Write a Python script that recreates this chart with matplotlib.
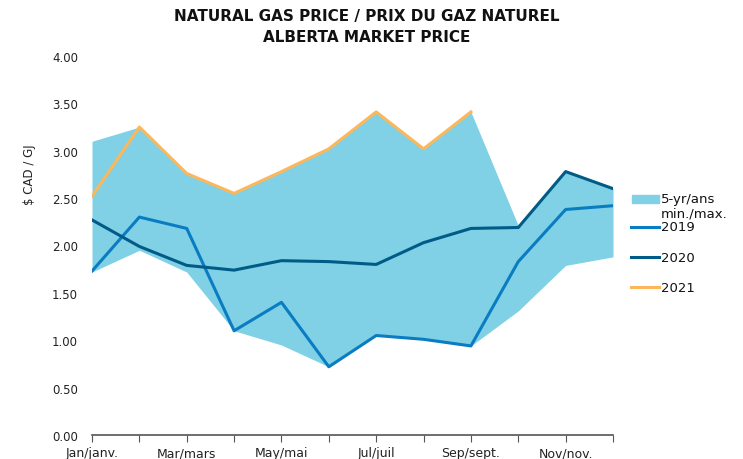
import matplotlib.pyplot as plt
from matplotlib.lines import Line2D
from matplotlib.patches import Rectangle

months = ['Jan/janv.', 'Feb', 'Mar/mars', 'Apr', 'May/mai', 'Jun', 'Jul/juil', 'Aug',
          'Sep/sept.', 'Oct', 'Nov/nov.', 'Dec']
tick_labels = ['Jan/janv.', '', 'Mar/mars', '', 'May/mai', '', 'Jul/juil', '',
               'Sep/sept.', '', 'Nov/nov.', '']
band_min = [1.72, 1.95, 1.72, 1.10, 0.95, 0.72, 1.05, 1.01, 0.94, 1.31, 1.79, 1.88]
band_max = [3.10, 3.25, 2.76, 2.55, 2.78, 3.02, 3.41, 3.02, 3.41, 2.21, 2.78, 2.60]
p2019 = [1.73, 2.30, 2.18, 1.10, 1.40, 0.72, 1.05, 1.01, 0.94, 1.83, 2.38, 2.42]
p2020 = [2.27, 1.99, 1.79, 1.74, 1.84, 1.83, 1.80, 2.03, 2.18, 2.19, 2.78, 2.60]
p2021 = [2.52, 3.25, 2.76, 2.55, 2.78, 3.02, 3.41, 3.02, 3.41]

c_band = '#80D0E6'
c2019 = '#0A7DC2'
c2020 = '#005C87'
c2021 = '#FDB75B'

plt.rcParams['font.family'] = ['DejaVu Sans']

fig = plt.figure(figsize=(7.43, 4.6), dpi=100)
ax = fig.add_axes([92 / 743, 1 - 436 / 460, (613 - 92) / 743, (436 - 57) / 460])

x = list(range(len(months)))
ax.fill_between(x, band_min, band_max, color=c_band, linewidth=0)
ax.plot(x, p2019, color=c2019, linewidth=2.2)
ax.plot(x, p2020, color=c2020, linewidth=2.2)
ax.plot(x[:len(p2021)], p2021, color=c2021, linewidth=2.2)

ax.set_xlim(0, 11)
ax.set_ylim(0, 4)
ax.set_xticks(x)
ax.set_xticklabels(tick_labels, fontsize=9, color='#222222')
ax.set_yticks([0, 0.5, 1, 1.5, 2, 2.5, 3, 3.5, 4])
ax.set_yticklabels([f'{v:.2f}' for v in ax.get_yticks()], fontsize=8.5, color='#222222')
ax.tick_params(axis='y', length=0, pad=10)
ax.tick_params(axis='x', length=5, color='#555555', pad=3)
for s in ['top', 'right', 'left']:
    ax.spines[s].set_visible(False)
ax.spines['bottom'].set_color('#555555')
ax.spines['bottom'].set_linewidth(1.2)

fig.text(367 / 743, 1 - 17 / 460, 'NATURAL GAS PRICE / PRIX DU GAZ NATUREL',
         ha='center', va='center', fontsize=11, fontweight='bold', color='#111111')
fig.text(367 / 743, 1 - 37 / 460, 'ALBERTA MARKET PRICE',
         ha='center', va='center', fontsize=11, fontweight='bold', color='#111111')
fig.text(30 / 743, 1 - 175 / 460, '$ CAD / GJ', rotation=90, ha='center', va='center',
         fontsize=8.5, color='#222222')

# legend
fig.patches.append(Rectangle((632 / 743, 1 - 204 / 460), 27 / 743, 8 / 460,
                             transform=fig.transFigure, color=c_band, figure=fig))
fig.text(661 / 743, 1 - 199 / 460, '5-yr/ans', va='center', fontsize=9.5, color='#111111')
fig.text(661 / 743, 1 - 214 / 460, 'min./max.', va='center', fontsize=9.5, color='#111111')
for yy, col, lab in [(228, c2019, '2019'), (258, c2020, '2020'), (288, c2021, '2021')]:
    fig.lines.append(Line2D([631 / 743, 659 / 743], [1 - yy / 460, 1 - yy / 460],
                            transform=fig.transFigure, color=col, linewidth=2.2))
    fig.text(661 / 743, 1 - yy / 460, lab, va='center', fontsize=9.5, color='#111111')

fig.savefig('out.png', dpi=100)
